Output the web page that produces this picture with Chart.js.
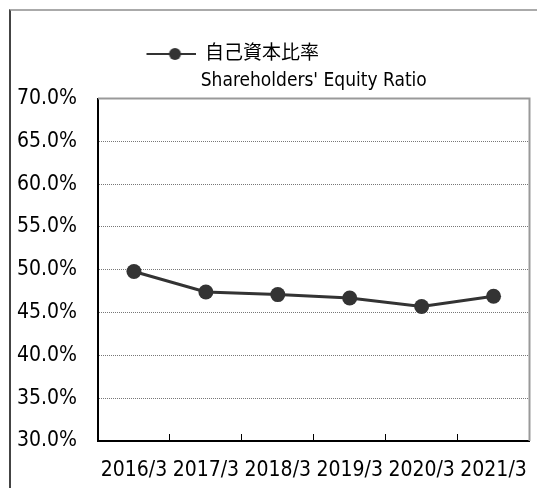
<!DOCTYPE html>
<html>
<head>
<meta charset="utf-8">
<script src="https://cdn.jsdelivr.net/npm/chart.js@4/dist/chart.umd.min.js"></script>
<style>
	html, body { margin: 0; padding: 0; background: #ffffff; }
	#wrap { position: relative; width: 537px; height: 488px; overflow: hidden; }
	#frame {
		position: absolute; left: 9px; top: 9px; width: 600px; height: 600px;
		border-left: 2px solid #444444; border-top: 2px solid #aaaaaa;
	}
	#ratio { position: absolute; left: 0; top: 0; }
</style>
</head>
<body>
<div id="wrap">
	<div id="frame"></div>
	<canvas id="ratio" width="537" height="488"></canvas>
</div>
<script>
const labels = ['2016/3', '2017/3', '2018/3', '2019/3', '2020/3', '2021/3'];
const equity_ratio = [49.8, 47.4, 47.1, 46.7, 45.7, 46.9];
const series_label = '自己資本比率';
const series_label_en = "Shareholders' Equity Ratio";
const y_min = 30;
const y_max = 70;
const y_step = 5;

const fontFamily = "'DejaVu Sans Condensed', 'DejaVu Sans', 'Noto Sans CJK JP', sans-serif";

// legend marker: line with a dot, left part left blank to push the text right
const marker = document.createElement('canvas');
marker.width = 142;
marker.height = 16;
const mctx = marker.getContext('2d');
mctx.strokeStyle = '#333333';
mctx.lineWidth = 2;
mctx.beginPath();
mctx.moveTo(93, 8);
mctx.lineTo(142, 8);
mctx.stroke();
mctx.fillStyle = '#333333';
mctx.beginPath();
mctx.arc(121.5, 8, 6, 0, Math.PI * 2);
mctx.fill();

// grey top/right edge of the plot area
const plotFrame = {
	id: 'plotFrame',
	afterDatasetsDraw(chart) {
		const {ctx, chartArea} = chart;
		ctx.save();
		ctx.strokeStyle = '#999999';
		ctx.lineWidth = 2;
		ctx.beginPath();
		ctx.moveTo(chartArea.left, chartArea.top);
		ctx.lineTo(chartArea.right, chartArea.top);
		ctx.lineTo(chartArea.right, chartArea.bottom);
		ctx.stroke();
		ctx.restore();
	}
};

const data_ratio = {
	labels: labels,
	datasets: [
		{
			label: series_label,
			data: equity_ratio,
			borderColor: '#333333',
			borderWidth: 3,
			pointRadius: 7.5,
			pointBorderWidth: 0,
			pointBackgroundColor: '#333333',
			pointBorderColor: '#333333',
			tension: 0
		}
	]
};

const config_ratio = {
	type: 'line',
	data: data_ratio,
	options: {
		responsive: false,
		animation: false,
		layout: {
			padding: { left: 16, right: 6, top: 7, bottom: 0 }
		},
		plugins: {
			tooltip: { enabled: false },
			legend: {
				display: true,
				position: 'top',
				align: 'start',
				labels: {
					usePointStyle: true,
					pointStyle: marker,
					pointStyleWidth: 142,
					padding: 37.5,
					color: '#000000',
					font: { family: fontFamily, size: 19 }
				}
			}
		},
		scales: {
			x: {
				offset: true,
				grid: {
					offset: true,
					drawOnChartArea: false,
					drawTicks: true,
					tickLength: -7,
					color: '#000000',
					lineWidth: 1
				},
				border: { color: '#000000', width: 2 },
				ticks: {
					color: '#000000',
					font: { family: fontFamily, size: 21 },
					padding: 24,
					maxRotation: 0,
					autoSkip: false
				},
				afterFit: (scale) => {
					scale.height = 47;
					scale.paddingLeft = 0;
					scale.paddingRight = 0;
				}
			},
			xTop: {
				type: 'category',
				position: 'top',
				grid: { display: false, drawTicks: false },
				border: { display: false },
				ticks: { display: false },
				title: {
					display: true,
					text: series_label_en,
					color: '#000000',
					font: { family: fontFamily, size: 19, lineHeight: 0.8 },
					padding: { top: 0, bottom: 9.8 }
				}
			},
			y: {
				min: y_min,
				max: y_max,
				grid: {
					drawTicks: false,
					color: '#777777',
					lineWidth: 1
				},
				border: { color: '#000000', width: 2, dash: [1, 1] },
				ticks: {
					stepSize: y_step,
					color: '#000000',
					padding: 21,
					font: { family: fontFamily, size: 21 },
					callback: (v) => v.toFixed(1) + '%'
				},
				afterFit: (scale) => {
					scale.width = 82;
				}
			}
		}
	},
	plugins: [plotFrame]
};

const ratio = new Chart(
	document.getElementById('ratio'),
	config_ratio
);
</script>
</body>
</html>
